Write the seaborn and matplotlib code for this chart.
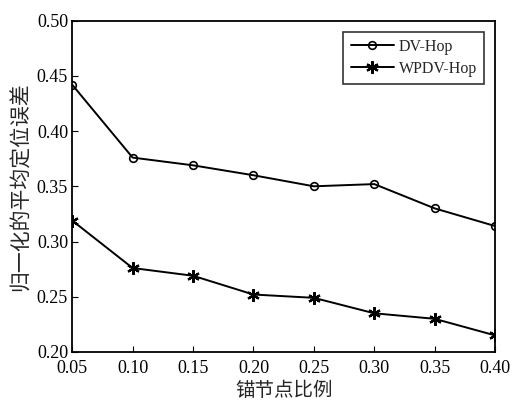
import matplotlib
matplotlib.use("Agg")
import matplotlib.pyplot as plt
import seaborn as sns
import pandas as pd

ratios = [0.05, 0.10, 0.15, 0.20, 0.25, 0.30, 0.35, 0.40]
dv_hop = [0.442, 0.376, 0.369, 0.360, 0.350, 0.352, 0.330, 0.314]
wpdv_hop = [0.319, 0.276, 0.269, 0.252, 0.249, 0.235, 0.230, 0.215]
series_names = ["DV-Hop", "WPDV-Hop"]
xticks = [0.05, 0.10, 0.15, 0.20, 0.25, 0.30, 0.35, 0.40]
yticks = [0.20, 0.25, 0.30, 0.35, 0.40, 0.45, 0.50]

sns.set_theme(style="white")
plt.rcParams['font.family'] = ['Liberation Serif', 'Noto Sans CJK SC']

fig = plt.figure(figsize=(5.12, 4.05), dpi=100)
ax = fig.add_axes([0.141, 0.131, 0.826, 0.818])

df1 = pd.DataFrame({"x": ratios, "y": dv_hop})
df2 = pd.DataFrame({"x": ratios, "y": wpdv_hop})
sns.lineplot(data=df1, x="x", y="y", ax=ax, color="black", linewidth=1.4,
             marker="o", markersize=5.5, markerfacecolor="none",
             markeredgecolor="black", markeredgewidth=1.2, label=series_names[0])
sns.lineplot(data=df2, x="x", y="y", ax=ax, color="black", linewidth=1.4,
             marker=(6, 2, 0), markersize=9, markerfacecolor="black",
             markeredgecolor="black", markeredgewidth=1.6, label=series_names[1])

ax.set_xlim(0.05, 0.40)
ax.set_ylim(0.20, 0.50)
ax.set_xticks(xticks)
ax.set_yticks(yticks)
ax.set_xticklabels([f"{v:.2f}" for v in xticks], fontsize=13)
ax.set_yticklabels([f"{v:.2f}" for v in yticks], fontsize=13)
ax.tick_params(direction="in", length=4, width=0.8, colors="black",
               bottom=True, left=True, top=False, right=False)
ax.tick_params(axis="x", pad=6)
ax.tick_params(axis="y", pad=3)
for s in ax.spines.values():
    s.set_color("black")
    s.set_linewidth(1.3)

ax.set_xlabel("锚节点比例", fontsize=14, family=['Noto Sans CJK SC'], labelpad=2)
ax.set_ylabel("归一化的平均定位误差", fontsize=15, family=['Noto Sans CJK SC'], labelpad=4)

leg = ax.legend(loc="upper right", fontsize=11.5, frameon=True, fancybox=False,
                edgecolor="black", handlelength=2.7, handletextpad=0.3,
                borderpad=0.45, labelspacing=0.35, borderaxespad=0.7)
leg.get_frame().set_linewidth(1.2)

fig.savefig("out.png", dpi=100)
